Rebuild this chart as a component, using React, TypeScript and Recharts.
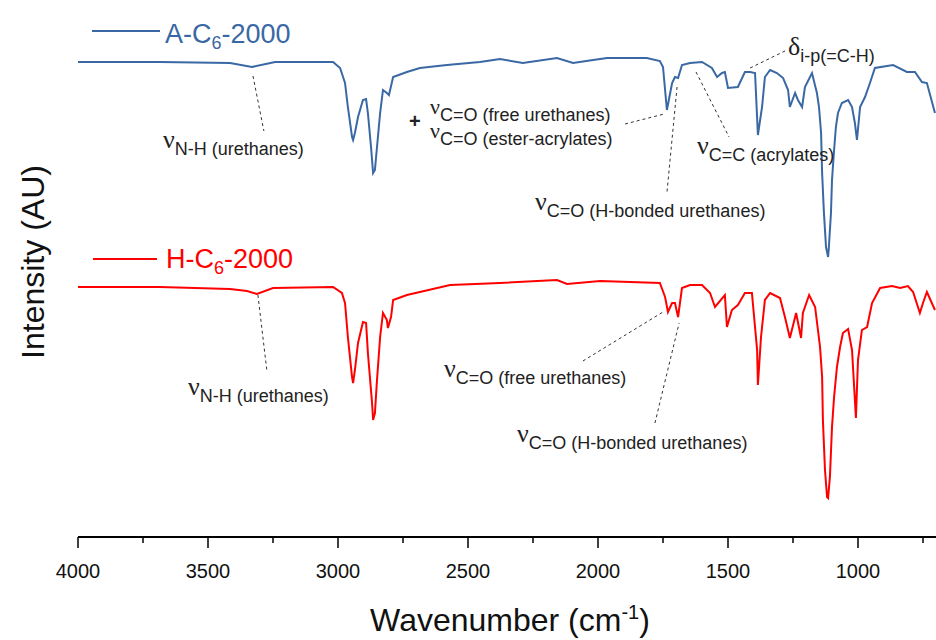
import React from 'react';
import { LineChart, Line, XAxis, YAxis, ReferenceLine } from 'recharts';

// A-C6-2000 (blue) spectrum, wavenumber (cm-1) and intensity (AU)
const blueWn = [4000, 3685, 3415, 3331, 3242, 3019, 2992, 2973, 2962, 2946, 2942, 2935, 2923, 2904, 2892, 2885, 2873, 2865, 2858, 2850, 2838, 2827, 2812, 2804, 2788, 2735, 2685, 2581, 2454, 2377, 2289, 2158, 2096, 2019, 1965, 1812, 1762, 1750, 1735, 1715, 1704, 1692, 1677, 1646, 1600, 1562, 1542, 1523, 1512, 1500, 1462, 1435, 1415, 1396, 1385, 1369, 1358, 1338, 1312, 1288, 1269, 1262, 1242, 1231, 1215, 1204, 1177, 1158, 1150, 1142, 1138, 1131, 1123, 1115, 1112, 1104, 1100, 1092, 1085, 1077, 1062, 1038, 1023, 1012, 1004, 992, 973, 954, 935, 865, 812, 781, 754, 735, 704];
const blueInt = [475, 475, 474, 470, 475, 475, 469, 454, 430, 400, 397, 404, 420, 437, 438, 424, 390, 364, 367, 390, 424, 447, 444, 442, 460, 465, 469, 472, 475, 478, 474, 479, 474, 477, 479, 479, 476, 470, 427, 454, 460, 459, 472, 474, 475, 469, 460, 464, 465, 449, 450, 465, 465, 464, 402, 430, 460, 467, 464, 459, 447, 430, 444, 437, 430, 450, 464, 444, 430, 404, 364, 324, 290, 280, 290, 324, 357, 387, 410, 424, 434, 437, 430, 414, 397, 430, 440, 454, 469, 472, 465, 465, 455, 454, 424];

// H-C6-2000 (red) spectrum
const redWn = [4000, 3685, 3415, 3350, 3312, 3250, 3019, 2985, 2973, 2962, 2946, 2942, 2935, 2923, 2904, 2892, 2885, 2869, 2865, 2858, 2850, 2838, 2827, 2812, 2808, 2796, 2788, 2735, 2685, 2569, 2377, 2158, 2119, 1992, 1762, 1742, 1731, 1715, 1704, 1692, 1677, 1646, 1600, 1569, 1550, 1512, 1504, 1485, 1462, 1435, 1408, 1388, 1385, 1373, 1358, 1338, 1300, 1281, 1262, 1238, 1219, 1212, 1188, 1165, 1146, 1138, 1135, 1127, 1119, 1115, 1108, 1100, 1092, 1081, 1069, 1058, 1038, 1023, 1008, 1000, 985, 965, 946, 915, 869, 838, 808, 788, 762, 750, 735, 704];
const redInt = [250, 250, 248, 246, 243, 249, 250, 244, 234, 200, 160, 154, 167, 194, 215, 214, 184, 134, 117, 124, 157, 200, 224, 217, 209, 220, 237, 242, 245, 252, 254, 257, 253, 256, 254, 240, 225, 234, 234, 220, 249, 252, 252, 244, 230, 242, 210, 227, 232, 244, 244, 187, 152, 200, 237, 244, 239, 220, 199, 224, 199, 224, 242, 230, 190, 160, 117, 67, 40, 39, 60, 110, 140, 170, 190, 204, 208, 187, 119, 177, 207, 210, 234, 249, 251, 249, 251, 245, 224, 234, 245, 227];

const xTicks = [4000, 3750, 3500, 3250, 3000, 2750, 2500, 2250, 2000, 1750, 1500, 1250, 1000, 750];

// leader lines: [wn1, int1, wn2, int2]
const leaders = [
  [3327, 461, 3285, 406],
  [1896, 413, 1746, 423],
  [1696, 450, 1735, 344],
  [1623, 465, 1496, 400],
  [1415, 469, 1273, 487],
  [3308, 242, 3273, 165],
  [2058, 176, 1750, 225],
  [1781, 114, 1688, 214],
];

const BLUE = '#3a68a4';
const RED = '#ff0000';
const FONT = '"Liberation Sans", Arial, sans-serif';

const blueData = blueWn.map((wn, i) => ({ wn, v: blueInt[i] }));
const redData = redWn.map((wn, i) => ({ wn, v: redInt[i] }));

const WnTick = (props: any) => {
  const { x, y, payload } = props;
  const major = payload.value % 500 === 0;
  return (
    <g>
      <line x1={x} y1={y} x2={x} y2={y + (major ? 11 : 6)} stroke="#000" strokeWidth={1.5} />
      {major && (
        <text x={x} y={y + 41} textAnchor="middle" fontSize={20} fontFamily={FONT} fill="#111">
          {payload.value}
        </text>
      )}
    </g>
  );
};

type NoteProps = { x: number; y: number; sym: string; sub: string; rest?: string; symSize?: number };

const Note = ({ x, y, sym, sub, rest, symSize = 26 }: NoteProps) => (
  <text x={x} y={y} fill="#222" fontFamily={FONT}>
    <tspan fontFamily='"Liberation Serif", "Times New Roman", serif' fontSize={symSize}>{sym}</tspan>
    <tspan fontSize={18} dy={7}>{sub}</tspan>
    {rest && <tspan fontSize={18}>{rest}</tspan>}
  </text>
);

export default function App() {
  return (
    <div style={{ position: 'absolute', left: 0, top: 0, width: 936, height: 640, background: '#fff' }}>
      <LineChart width={936} height={640} margin={{ top: 15, right: 0, bottom: 73, left: 78 }}>
        <XAxis
          dataKey="wn"
          type="number"
          domain={[700, 4000]}
          reversed
          allowDataOverflow
          ticks={xTicks}
          interval={0}
          height={30}
          tickSize={0}
          tickMargin={0}
          tickLine={false}
          tick={<WnTick />}
          axisLine={{ stroke: '#000', strokeWidth: 2 }}
        />
        <YAxis
          type="number"
          domain={[0, 522]}
          width={0}
          tick={false}
          tickLine={false}
          axisLine={{ stroke: '#000', strokeWidth: 2 }}
        />
        {leaders.map((l, i) => (
          <ReferenceLine
            key={i}
            segment={[{ x: l[0], y: l[1] }, { x: l[2], y: l[3] }]}
            stroke="#333"
            strokeWidth={1}
            strokeDasharray="3 3"
          />
        ))}
        <Line data={blueData} dataKey="v" type="linear" stroke={BLUE} strokeWidth={2} dot={false} isAnimationActive={false} />
        <Line data={redData} dataKey="v" type="linear" stroke={RED} strokeWidth={2} dot={false} isAnimationActive={false} />
      </LineChart>
      <svg width={936} height={640} style={{ position: 'absolute', left: 0, top: 0, pointerEvents: 'none' }}>
        {/* legend */}
        <line x1={92} y1={31} x2={160} y2={31} stroke={BLUE} strokeWidth={2} />
        <text x={165} y={43} fontSize={27} fontFamily={FONT} fill={BLUE}>
          A-C<tspan fontSize={18} dy={6}>6</tspan><tspan dy={-6}>-2000</tspan>
        </text>
        <line x1={93} y1={259} x2={157} y2={259} stroke={RED} strokeWidth={2} />
        <text x={166} y={268} fontSize={27} fontFamily={FONT} fill={RED}>
          H-C<tspan fontSize={18} dy={6}>6</tspan><tspan dy={-6}>-2000</tspan>
        </text>

        {/* axis titles */}
        <text x={510} y={631} textAnchor="middle" fontSize={32} fontFamily={FONT} fill="#111">
          Wavenumber (cm<tspan fontSize={20} dy={-12}>-1</tspan><tspan dy={12}>)</tspan>
        </text>
        <text transform="translate(44,262) rotate(-90)" textAnchor="middle" fontSize={32} fontFamily={FONT} fill="#111">
          Intensity (AU)
        </text>

        {/* blue annotations */}
        <Note x={163} y={148} sym="ν" sub="N-H" rest=" (urethanes)" />
        <text x={409} y={128} fontSize={20} fontWeight="bold" fontFamily={FONT} fill="#222">+</text>
        <Note x={430} y={114} sym="ν" sub="C=O" rest=" (free urethanes)" symSize={22} />
        <Note x={430} y={138} sym="ν" sub="C=O" rest=" (ester-acrylates)" symSize={22} />
        <Note x={535} y={210} sym="ν" sub="C=O" rest=" (H-bonded urethanes)" />
        <Note x={697} y={154} sym="ν" sub="C=C" rest=" (acrylates)" />
        <Note x={788} y={55} sym="δ" sub="i-p(=C-H)" />

        {/* red annotations */}
        <Note x={188} y={395} sym="ν" sub="N-H" rest=" (urethanes)" />
        <Note x={444} y={377} sym="ν" sub="C=O" rest=" (free urethanes)" />
        <Note x={517} y={442} sym="ν" sub="C=O" rest=" (H-bonded urethanes)" />
      </svg>
    </div>
  );
}
